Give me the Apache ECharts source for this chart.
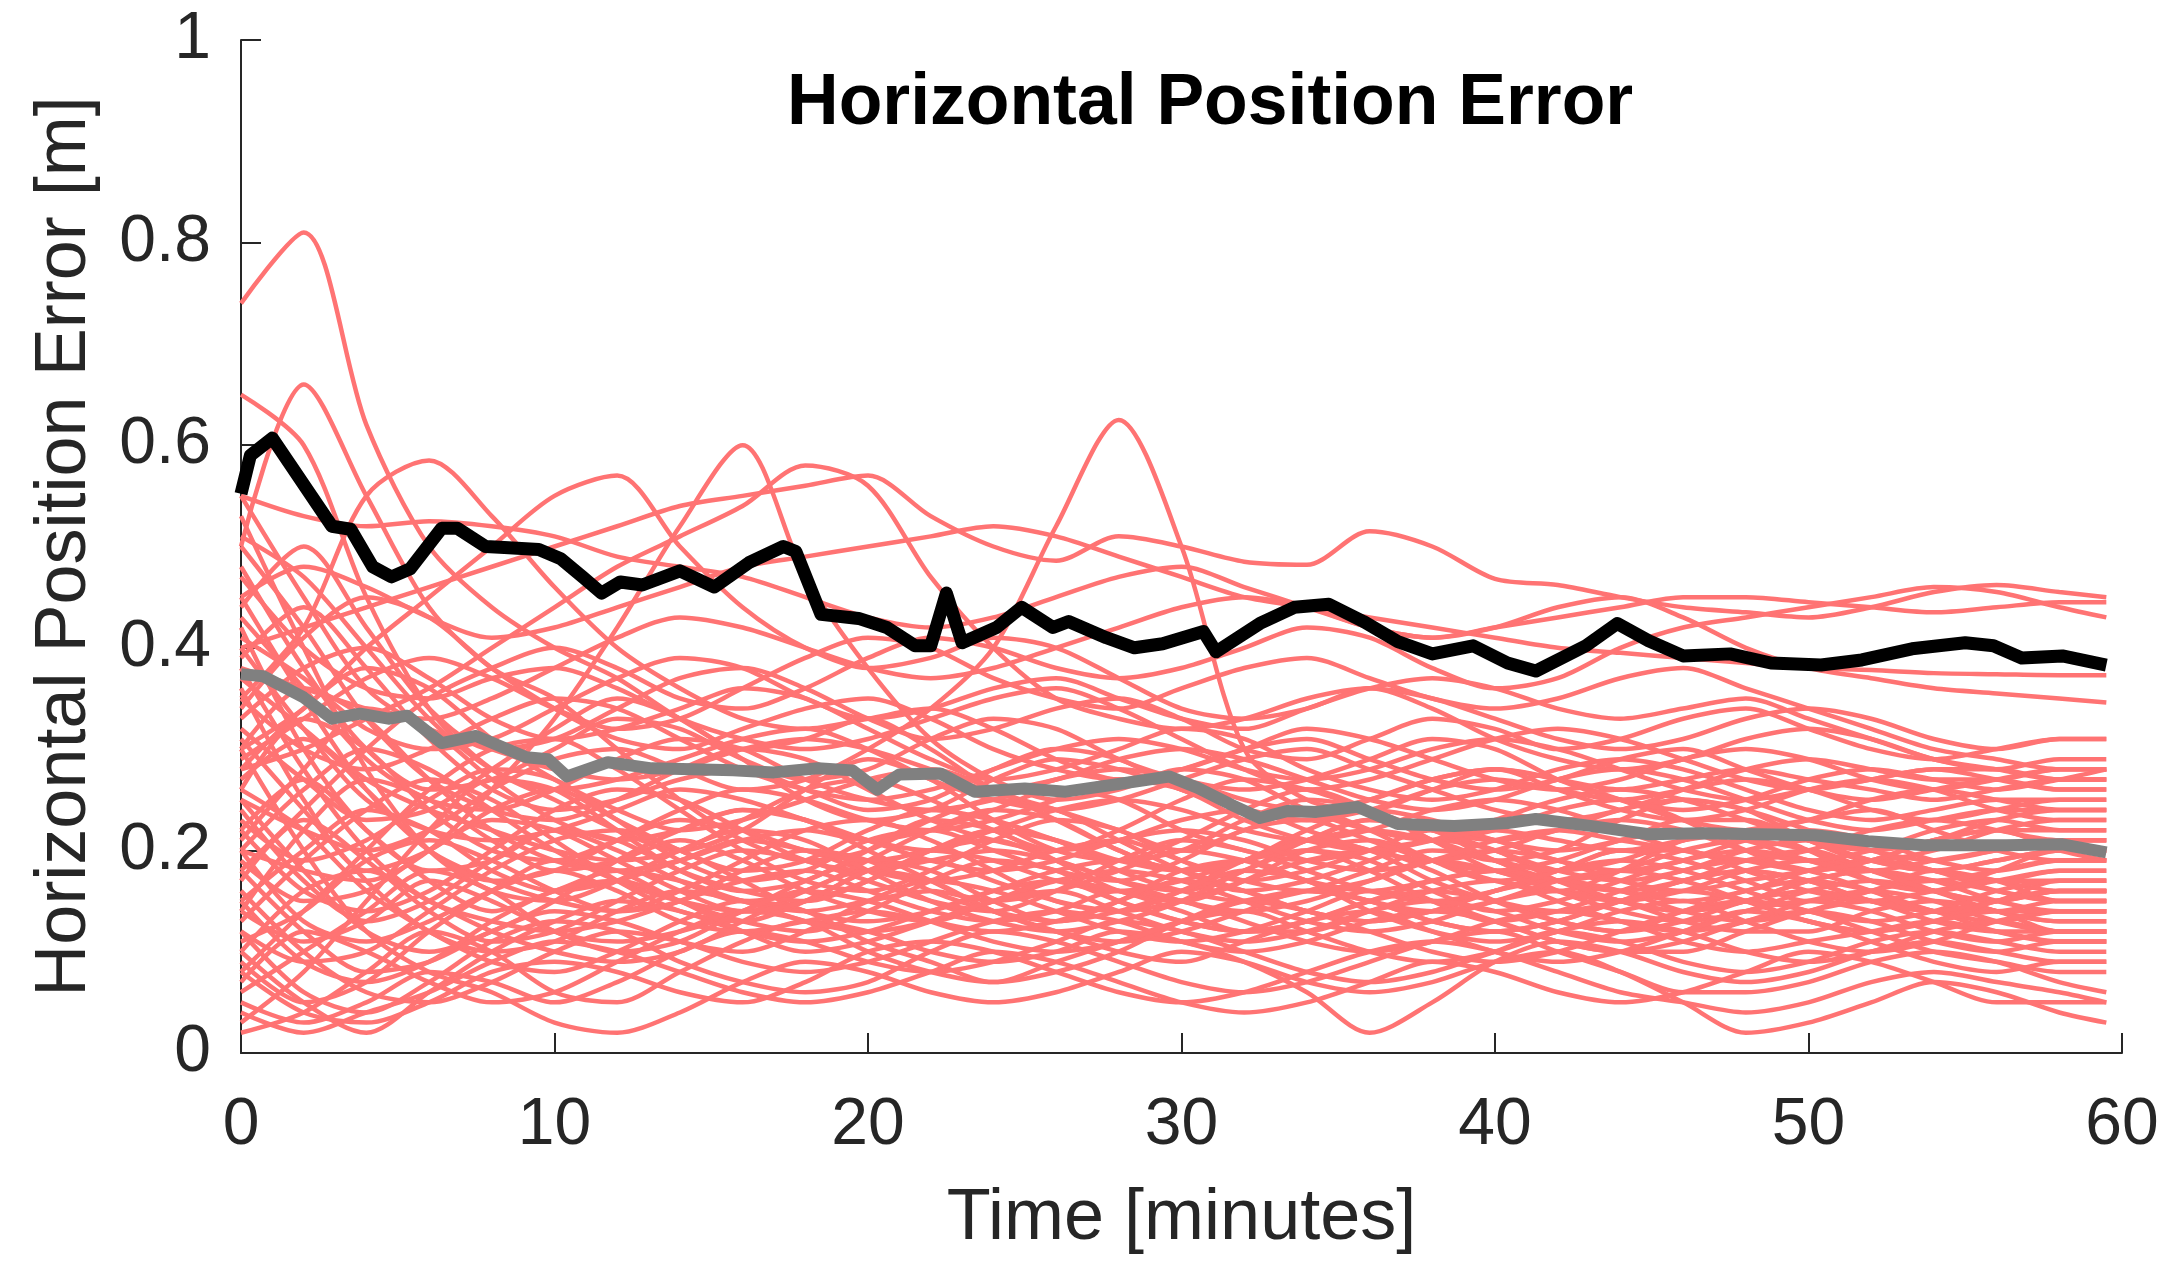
<!DOCTYPE html>
<html>
<head>
<meta charset="utf-8">
<title>Horizontal Position Error</title>
<script src="https://cdn.jsdelivr.net/npm/echarts@6/dist/echarts.min.js"></script>
<style>
  html, body { margin: 0; padding: 0; background: #fff; }
  #main { width: 2171px; height: 1279px; }
</style>
</head>
<body>
<div id="main"></div>
<script type="text/javascript">
// time axis (minutes), shared by every run
var times = [0,2,4,6,8,10,12,14,16,18,20,22,24,26,28,30,32,34,36,38,40,42,44,46,48,50,52,54,56,58,59.5];

// individual runs (red)
var runs = [
  [0.74,0.81,0.62,0.50,0.44,0.40,0.37,0.33,0.30,0.31,0.33,0.30,0.26,0.24,0.22,0.20,0.22,0.24,0.22,0.19,0.17,0.18,0.20,0.19,0.17,0.15,0.16,0.18,0.17,0.15,0.15],
  [0.65,0.60,0.45,0.34,0.28,0.25,0.22,0.20,0.22,0.26,0.29,0.27,0.23,0.20,0.19,0.21,0.24,0.26,0.24,0.21,0.19,0.20,0.23,0.25,0.24,0.21,0.19,0.20,0.22,0.23,0.23],
  [0.50,0.66,0.55,0.44,0.38,0.35,0.30,0.25,0.21,0.19,0.20,0.23,0.25,0.24,0.21,0.18,0.16,0.17,0.19,0.21,0.20,0.17,0.15,0.14,0.15,0.17,0.18,0.16,0.14,0.13,0.13],
  [0.35,0.42,0.55,0.585,0.53,0.46,0.40,0.36,0.33,0.32,0.33,0.34,0.32,0.29,0.27,0.28,0.30,0.31,0.29,0.27,0.26,0.27,0.29,0.30,0.28,0.26,0.25,0.26,0.27,0.26,0.26],
  [0.30,0.34,0.40,0.45,0.50,0.55,0.57,0.50,0.44,0.40,0.38,0.39,0.41,0.40,0.37,0.34,0.33,0.34,0.36,0.35,0.33,0.31,0.30,0.31,0.33,0.34,0.33,0.31,0.30,0.31,0.31],
  [0.20,0.18,0.17,0.20,0.26,0.33,0.42,0.52,0.60,0.47,0.38,0.31,0.27,0.25,0.26,0.28,0.27,0.24,0.22,0.21,0.22,0.24,0.25,0.23,0.20,0.18,0.19,0.21,0.22,0.20,0.19],
  [0.28,0.30,0.33,0.36,0.40,0.44,0.48,0.51,0.54,0.58,0.56,0.47,0.40,0.35,0.33,0.32,0.33,0.35,0.36,0.34,0.31,0.29,0.28,0.29,0.31,0.32,0.31,0.29,0.28,0.29,0.29],
  [0.40,0.42,0.44,0.46,0.48,0.50,0.52,0.54,0.55,0.56,0.57,0.53,0.50,0.486,0.51,0.50,0.485,0.482,0.515,0.50,0.468,0.462,0.45,0.44,0.435,0.43,0.44,0.455,0.462,0.455,0.45],
  [0.25,0.22,0.20,0.22,0.26,0.29,0.30,0.28,0.26,0.27,0.30,0.34,0.40,0.52,0.625,0.50,0.30,0.25,0.24,0.26,0.28,0.27,0.25,0.23,0.22,0.23,0.25,0.26,0.25,0.24,0.24],
  [0.55,0.53,0.52,0.525,0.52,0.51,0.49,0.48,0.47,0.45,0.43,0.42,0.43,0.45,0.47,0.48,0.46,0.44,0.42,0.41,0.42,0.43,0.44,0.45,0.45,0.445,0.44,0.435,0.44,0.445,0.445],
  [0.45,0.48,0.46,0.43,0.41,0.42,0.44,0.46,0.48,0.49,0.50,0.51,0.52,0.51,0.49,0.47,0.45,0.44,0.43,0.42,0.41,0.40,0.395,0.39,0.385,0.38,0.378,0.375,0.374,0.373,0.373],
  [0.38,0.36,0.34,0.33,0.35,0.38,0.41,0.43,0.42,0.40,0.38,0.37,0.38,0.40,0.42,0.44,0.45,0.44,0.42,0.41,0.42,0.44,0.45,0.43,0.40,0.38,0.37,0.36,0.355,0.35,0.346],
  [0.18,0.24,0.30,0.35,0.38,0.40,0.38,0.35,0.34,0.36,0.39,0.41,0.40,0.38,0.37,0.38,0.40,0.42,0.41,0.38,0.36,0.37,0.40,0.42,0.43,0.44,0.45,0.46,0.455,0.44,0.43],
  [0.10,0.05,0.02,0.06,0.10,0.13,0.15,0.14,0.12,0.11,0.12,0.14,0.16,0.17,0.15,0.13,0.12,0.13,0.15,0.16,0.15,0.13,0.12,0.13,0.15,0.16,0.15,0.13,0.12,0.12,0.12],
  [0.02,0.04,0.08,0.12,0.10,0.06,0.05,0.08,0.11,0.13,0.12,0.10,0.09,0.10,0.12,0.11,0.09,0.06,0.02,0.05,0.09,0.11,0.10,0.08,0.07,0.08,0.10,0.11,0.10,0.09,0.09],
  [0.30,0.20,0.12,0.08,0.06,0.03,0.02,0.04,0.07,0.09,0.08,0.06,0.05,0.06,0.08,0.10,0.09,0.07,0.06,0.07,0.09,0.10,0.08,0.05,0.02,0.03,0.05,0.07,0.06,0.04,0.03],
  [0.15,0.20,0.24,0.22,0.18,0.16,0.17,0.19,0.21,0.20,0.18,0.17,0.18,0.20,0.21,0.19,0.17,0.16,0.17,0.19,0.20,0.19,0.17,0.16,0.17,0.18,0.19,0.18,0.17,0.16,0.16],
  [0.45,0.35,0.26,0.20,0.17,0.15,0.14,0.16,0.19,0.22,0.23,0.21,0.18,0.15,0.14,0.15,0.17,0.19,0.20,0.18,0.15,0.13,0.12,0.14,0.16,0.17,0.16,0.14,0.13,0.14,0.14],
  [0.08,0.14,0.20,0.26,0.30,0.31,0.28,0.24,0.20,0.17,0.16,0.18,0.21,0.23,0.22,0.19,0.17,0.18,0.20,0.22,0.21,0.19,0.18,0.19,0.21,0.22,0.21,0.19,0.18,0.19,0.19],
  [0.25,0.18,0.12,0.10,0.12,0.15,0.19,0.22,0.24,0.23,0.20,0.17,0.14,0.12,0.11,0.12,0.14,0.16,0.15,0.13,0.12,0.13,0.15,0.17,0.18,0.17,0.15,0.14,0.15,0.17,0.17],
  [0.35,0.30,0.28,0.30,0.33,0.35,0.34,0.31,0.28,0.26,0.25,0.26,0.28,0.30,0.31,0.30,0.28,0.27,0.28,0.30,0.31,0.30,0.28,0.26,0.25,0.26,0.27,0.28,0.27,0.26,0.26],
  [0.12,0.09,0.10,0.14,0.18,0.21,0.22,0.20,0.17,0.14,0.13,0.14,0.16,0.18,0.19,0.18,0.16,0.14,0.13,0.14,0.16,0.18,0.19,0.18,0.16,0.14,0.13,0.14,0.16,0.17,0.17],
  [0.50,0.42,0.33,0.27,0.24,0.23,0.25,0.28,0.30,0.29,0.26,0.23,0.21,0.20,0.22,0.25,0.27,0.26,0.24,0.22,0.21,0.22,0.24,0.25,0.24,0.22,0.20,0.19,0.20,0.21,0.21],
  [0.20,0.26,0.30,0.28,0.24,0.20,0.17,0.15,0.14,0.15,0.17,0.20,0.22,0.21,0.18,0.16,0.15,0.16,0.18,0.20,0.19,0.16,0.14,0.13,0.14,0.16,0.17,0.16,0.14,0.13,0.13],
  [0.05,0.03,0.05,0.08,0.07,0.05,0.07,0.10,0.12,0.11,0.09,0.08,0.09,0.11,0.13,0.12,0.10,0.08,0.07,0.08,0.10,0.12,0.11,0.09,0.08,0.09,0.11,0.12,0.11,0.10,0.10],
  [0.40,0.32,0.25,0.22,0.21,0.22,0.24,0.26,0.25,0.23,0.21,0.20,0.22,0.24,0.25,0.24,0.22,0.21,0.22,0.24,0.25,0.24,0.22,0.20,0.19,0.20,0.22,0.23,0.22,0.21,0.21],
  [0.28,0.34,0.38,0.36,0.31,0.27,0.24,0.22,0.23,0.25,0.27,0.28,0.26,0.23,0.20,0.18,0.19,0.21,0.23,0.22,0.20,0.18,0.17,0.18,0.20,0.21,0.20,0.18,0.17,0.18,0.18],
  [0.18,0.12,0.08,0.09,0.12,0.14,0.13,0.11,0.10,0.12,0.15,0.17,0.16,0.14,0.12,0.11,0.12,0.14,0.16,0.15,0.13,0.11,0.10,0.11,0.13,0.14,0.13,0.11,0.10,0.11,0.11],
  [0.33,0.38,0.40,0.37,0.33,0.31,0.32,0.34,0.36,0.35,0.32,0.29,0.27,0.28,0.30,0.32,0.31,0.28,0.26,0.25,0.26,0.28,0.29,0.28,0.26,0.24,0.23,0.24,0.25,0.25,0.25],
  [0.22,0.16,0.14,0.16,0.20,0.24,0.26,0.25,0.22,0.19,0.18,0.19,0.20,0.19,0.17,0.16,0.18,0.21,0.23,0.22,0.19,0.17,0.16,0.17,0.19,0.20,0.18,0.16,0.15,0.16,0.16],
  [0.10,0.16,0.18,0.15,0.12,0.10,0.09,0.10,0.13,0.16,0.18,0.17,0.14,0.12,0.10,0.09,0.11,0.13,0.14,0.12,0.10,0.09,0.10,0.12,0.14,0.13,0.11,0.09,0.08,0.09,0.09],
  [0.42,0.30,0.22,0.18,0.19,0.22,0.20,0.17,0.15,0.16,0.19,0.22,0.24,0.23,0.20,0.18,0.19,0.22,0.24,0.23,0.21,0.20,0.21,0.23,0.23,0.21,0.19,0.18,0.19,0.20,0.20],
  [0.26,0.22,0.16,0.12,0.09,0.08,0.10,0.13,0.15,0.14,0.11,0.09,0.07,0.08,0.10,0.13,0.15,0.14,0.12,0.10,0.09,0.10,0.12,0.14,0.15,0.14,0.12,0.10,0.09,0.08,0.08],
  [0.55,0.45,0.36,0.32,0.30,0.28,0.27,0.28,0.30,0.31,0.30,0.28,0.26,0.27,0.29,0.30,0.29,0.27,0.25,0.24,0.25,0.27,0.28,0.27,0.25,0.23,0.22,0.23,0.24,0.24,0.24],
  [0.14,0.22,0.27,0.25,0.21,0.18,0.19,0.21,0.19,0.16,0.14,0.13,0.15,0.17,0.18,0.17,0.15,0.13,0.12,0.13,0.15,0.16,0.15,0.13,0.12,0.12,0.14,0.15,0.14,0.12,0.12],
  [0.06,0.10,0.14,0.18,0.16,0.12,0.11,0.12,0.14,0.17,0.19,0.18,0.15,0.13,0.14,0.16,0.18,0.17,0.14,0.12,0.11,0.12,0.14,0.15,0.13,0.11,0.10,0.11,0.13,0.14,0.14],
  [0.38,0.28,0.20,0.15,0.13,0.12,0.13,0.15,0.17,0.18,0.16,0.14,0.13,0.14,0.16,0.15,0.13,0.11,0.10,0.11,0.13,0.14,0.13,0.11,0.10,0.11,0.12,0.13,0.12,0.11,0.11],
  [0.30,0.36,0.33,0.27,0.22,0.19,0.18,0.19,0.21,0.22,0.21,0.22,0.24,0.26,0.25,0.22,0.20,0.19,0.20,0.21,0.22,0.21,0.20,0.21,0.22,0.23,0.24,0.22,0.20,0.19,0.19],
  [0.16,0.10,0.06,0.05,0.07,0.10,0.12,0.11,0.09,0.08,0.09,0.11,0.13,0.14,0.13,0.11,0.10,0.11,0.13,0.14,0.13,0.11,0.10,0.10,0.12,0.14,0.15,0.14,0.12,0.11,0.11],
  [0.48,0.38,0.30,0.26,0.27,0.30,0.33,0.32,0.29,0.27,0.28,0.31,0.33,0.32,0.29,0.27,0.26,0.27,0.29,0.31,0.30,0.27,0.25,0.24,0.25,0.27,0.28,0.27,0.26,0.27,0.28],
  [0.22,0.27,0.22,0.17,0.14,0.16,0.18,0.17,0.15,0.14,0.15,0.16,0.15,0.16,0.18,0.20,0.19,0.17,0.16,0.17,0.18,0.17,0.16,0.15,0.16,0.18,0.19,0.18,0.16,0.15,0.15],
  [0.12,0.06,0.04,0.07,0.11,0.13,0.12,0.09,0.07,0.06,0.07,0.10,0.12,0.11,0.09,0.07,0.06,0.07,0.09,0.11,0.12,0.10,0.08,0.06,0.06,0.07,0.09,0.10,0.09,0.07,0.06],
  [0.36,0.25,0.18,0.20,0.24,0.26,0.23,0.20,0.18,0.19,0.22,0.24,0.23,0.21,0.19,0.20,0.23,0.25,0.24,0.21,0.18,0.17,0.18,0.20,0.21,0.20,0.18,0.17,0.18,0.19,0.19],
  [0.20,0.13,0.11,0.13,0.16,0.18,0.16,0.13,0.12,0.13,0.14,0.13,0.12,0.13,0.15,0.17,0.16,0.14,0.13,0.14,0.16,0.17,0.16,0.14,0.13,0.14,0.16,0.17,0.16,0.15,0.15],
  [0.44,0.50,0.42,0.34,0.30,0.31,0.34,0.37,0.38,0.36,0.33,0.31,0.32,0.34,0.35,0.33,0.30,0.29,0.31,0.33,0.32,0.30,0.31,0.33,0.34,0.32,0.30,0.29,0.30,0.31,0.31],
  [0.53,0.40,0.28,0.20,0.16,0.15,0.17,0.20,0.22,0.21,0.18,0.15,0.13,0.12,0.13,0.15,0.18,0.20,0.19,0.16,0.14,0.15,0.17,0.19,0.20,0.19,0.17,0.16,0.17,0.18,0.18],
  [0.03,0.08,0.15,0.22,0.27,0.26,0.22,0.18,0.16,0.17,0.20,0.23,0.22,0.19,0.16,0.15,0.17,0.20,0.21,0.19,0.17,0.16,0.18,0.21,0.22,0.20,0.17,0.16,0.18,0.20,0.20],
  [0.32,0.27,0.23,0.24,0.28,0.32,0.35,0.33,0.29,0.25,0.23,0.24,0.27,0.29,0.28,0.26,0.24,0.23,0.25,0.27,0.28,0.26,0.24,0.23,0.24,0.26,0.27,0.26,0.24,0.23,0.23],
  [0.09,0.05,0.07,0.12,0.16,0.19,0.18,0.15,0.13,0.12,0.14,0.17,0.19,0.18,0.15,0.13,0.12,0.13,0.15,0.17,0.18,0.17,0.15,0.14,0.15,0.17,0.18,0.17,0.15,0.14,0.14],
  [0.47,0.40,0.36,0.35,0.37,0.38,0.36,0.33,0.31,0.30,0.31,0.33,0.35,0.36,0.34,0.31,0.28,0.26,0.27,0.29,0.31,0.32,0.31,0.29,0.27,0.26,0.27,0.28,0.28,0.27,0.27],
  [0.17,0.23,0.19,0.14,0.11,0.12,0.15,0.18,0.20,0.19,0.17,0.15,0.14,0.16,0.19,0.21,0.20,0.18,0.16,0.15,0.16,0.18,0.20,0.20,0.18,0.16,0.15,0.16,0.17,0.17,0.17],
  [0.27,0.31,0.26,0.20,0.17,0.18,0.21,0.24,0.26,0.25,0.23,0.22,0.23,0.25,0.27,0.26,0.23,0.21,0.20,0.21,0.23,0.25,0.26,0.25,0.23,0.21,0.20,0.21,0.23,0.24,0.24],
  [0.07,0.12,0.10,0.07,0.05,0.06,0.09,0.12,0.14,0.13,0.10,0.08,0.07,0.09,0.11,0.13,0.14,0.12,0.10,0.09,0.10,0.12,0.13,0.12,0.10,0.09,0.10,0.12,0.13,0.12,0.12],
  [0.39,0.44,0.38,0.31,0.26,0.24,0.25,0.27,0.28,0.26,0.24,0.25,0.28,0.30,0.29,0.26,0.24,0.23,0.24,0.26,0.27,0.26,0.25,0.26,0.27,0.26,0.24,0.23,0.24,0.25,0.25],
  [0.24,0.17,0.13,0.15,0.19,0.22,0.21,0.18,0.16,0.15,0.17,0.20,0.21,0.19,0.17,0.15,0.14,0.15,0.17,0.19,0.18,0.16,0.15,0.16,0.18,0.19,0.18,0.16,0.15,0.16,0.16],
  [0.13,0.19,0.24,0.27,0.25,0.21,0.17,0.14,0.13,0.15,0.18,0.20,0.19,0.17,0.16,0.17,0.19,0.20,0.18,0.15,0.13,0.14,0.16,0.18,0.19,0.18,0.16,0.14,0.14,0.15,0.15],
  [0.31,0.24,0.17,0.12,0.10,0.11,0.14,0.16,0.15,0.13,0.12,0.13,0.15,0.17,0.16,0.14,0.12,0.12,0.14,0.16,0.17,0.15,0.13,0.12,0.13,0.15,0.16,0.15,0.13,0.12,0.12],
  [0.04,0.02,0.04,0.06,0.09,0.11,0.10,0.08,0.06,0.05,0.06,0.08,0.10,0.09,0.07,0.05,0.04,0.05,0.07,0.09,0.08,0.06,0.05,0.06,0.08,0.10,0.09,0.07,0.05,0.05,0.05],
  [0.43,0.36,0.29,0.25,0.24,0.26,0.29,0.31,0.30,0.27,0.25,0.24,0.25,0.27,0.28,0.27,0.25,0.24,0.25,0.27,0.28,0.27,0.26,0.27,0.28,0.27,0.26,0.25,0.26,0.27,0.27],
  [0.19,0.15,0.16,0.20,0.23,0.22,0.19,0.16,0.14,0.15,0.18,0.19,0.17,0.15,0.14,0.16,0.19,0.21,0.20,0.17,0.15,0.14,0.15,0.17,0.18,0.17,0.15,0.14,0.15,0.16,0.16],
  [0.11,0.14,0.19,0.21,0.19,0.16,0.14,0.15,0.18,0.20,0.19,0.16,0.14,0.13,0.15,0.18,0.19,0.17,0.15,0.14,0.15,0.17,0.18,0.17,0.15,0.13,0.12,0.13,0.15,0.16,0.16],
  [0.34,0.41,0.45,0.43,0.38,0.34,0.31,0.30,0.32,0.34,0.35,0.33,0.30,0.28,0.27,0.28,0.30,0.32,0.31,0.29,0.27,0.26,0.27,0.29,0.30,0.29,0.27,0.26,0.27,0.28,0.28],
  [0.23,0.19,0.21,0.25,0.28,0.27,0.23,0.19,0.17,0.18,0.21,0.22,0.20,0.18,0.17,0.19,0.22,0.23,0.21,0.19,0.18,0.19,0.21,0.22,0.21,0.19,0.18,0.19,0.20,0.21,0.21],
  [0.15,0.09,0.07,0.09,0.13,0.16,0.17,0.15,0.12,0.10,0.11,0.13,0.15,0.16,0.14,0.12,0.11,0.12,0.14,0.15,0.14,0.12,0.11,0.12,0.14,0.15,0.14,0.12,0.11,0.12,0.12],
  [0.51,0.47,0.40,0.33,0.28,0.26,0.27,0.29,0.31,0.32,0.30,0.27,0.25,0.24,0.25,0.27,0.29,0.30,0.28,0.26,0.24,0.23,0.24,0.26,0.28,0.29,0.28,0.27,0.27,0.28,0.28],
  [0.26,0.33,0.30,0.24,0.20,0.19,0.21,0.23,0.22,0.20,0.19,0.20,0.22,0.21,0.19,0.18,0.19,0.21,0.22,0.21,0.19,0.18,0.19,0.21,0.22,0.21,0.19,0.18,0.19,0.20,0.20],
  [0.08,0.04,0.03,0.05,0.08,0.09,0.08,0.06,0.05,0.07,0.10,0.11,0.10,0.08,0.06,0.05,0.06,0.08,0.10,0.11,0.10,0.08,0.06,0.05,0.04,0.05,0.07,0.08,0.07,0.06,0.05],
  [0.37,0.32,0.27,0.24,0.22,0.20,0.19,0.20,0.23,0.26,0.27,0.25,0.22,0.20,0.21,0.23,0.24,0.22,0.20,0.19,0.20,0.22,0.23,0.22,0.20,0.19,0.20,0.22,0.23,0.22,0.22],
  [0.21,0.28,0.34,0.32,0.27,0.23,0.21,0.22,0.24,0.23,0.21,0.19,0.18,0.19,0.21,0.22,0.21,0.19,0.18,0.19,0.21,0.22,0.21,0.20,0.19,0.18,0.19,0.21,0.22,0.22,0.22],
  [0.14,0.11,0.13,0.17,0.15,0.12,0.10,0.11,0.14,0.16,0.15,0.13,0.11,0.10,0.11,0.13,0.15,0.16,0.15,0.13,0.12,0.13,0.15,0.16,0.15,0.13,0.12,0.13,0.14,0.14,0.14],
  [0.29,0.33,0.37,0.39,0.37,0.34,0.32,0.33,0.36,0.39,0.41,0.40,0.37,0.35,0.34,0.36,0.38,0.39,0.37,0.35,0.34,0.35,0.37,0.38,0.36,0.34,0.32,0.30,0.29,0.28,0.28],
  [0.41,0.37,0.32,0.30,0.31,0.34,0.37,0.39,0.38,0.35,0.33,0.34,0.36,0.37,0.35,0.33,0.32,0.34,0.36,0.37,0.36,0.34,0.33,0.34,0.35,0.33,0.31,0.29,0.28,0.27,0.27]
];

// upper envelope (black) and typical error (gray)
var upperT = [0,0.3,1.0,2.9,3.5,4.2,4.8,5.4,6.4,6.9,7.8,8.4,9.5,10.2,10.9,11.5,12.1,12.8,14.0,15.1,16.2,17.3,17.7,18.5,19.7,20.6,21.5,22.0,22.5,23.0,24.1,24.9,25.9,26.4,27.6,28.5,29.4,30.7,31.1,32.5,33.6,34.7,35.8,36.9,38.0,39.3,40.4,41.3,42.9,43.9,44.9,46.0,47.5,48.8,50.4,51.7,53.3,55.0,55.9,56.8,58.1,59.5];
var upperV = [0.552,0.59,0.607,0.52,0.517,0.48,0.47,0.478,0.518,0.518,0.50,0.499,0.497,0.488,0.47,0.454,0.465,0.462,0.476,0.46,0.484,0.50,0.495,0.433,0.429,0.42,0.402,0.402,0.454,0.405,0.42,0.44,0.42,0.426,0.41,0.40,0.404,0.416,0.396,0.424,0.44,0.443,0.426,0.406,0.394,0.402,0.385,0.377,0.402,0.424,0.407,0.392,0.394,0.385,0.383,0.388,0.399,0.405,0.402,0.39,0.392,0.383];
var typicalT = [0,0.7,2.0,2.9,3.8,4.7,5.3,6.4,7.5,9.1,9.8,10.4,11.7,13.1,14.4,15.7,17.0,18.4,19.5,20.3,21.0,22.3,23.4,25.0,26.3,28.1,29.6,30.5,31.6,32.5,33.4,34.3,35.6,36.9,38.7,40.4,41.3,43.1,44.9,46.6,48.4,50.2,51.9,53.7,55.0,56.3,58.1,59.5];
var typicalV = [0.374,0.372,0.351,0.33,0.335,0.33,0.333,0.306,0.313,0.292,0.29,0.273,0.287,0.281,0.28,0.279,0.277,0.281,0.279,0.26,0.275,0.276,0.258,0.261,0.258,0.266,0.273,0.262,0.245,0.232,0.239,0.238,0.243,0.226,0.224,0.227,0.231,0.224,0.216,0.217,0.216,0.215,0.209,0.205,0.205,0.205,0.206,0.198];

var xTicks = [0, 60, 10];
var yTicks = [0, 1, 0.2];

function pairs(t, v) {
    var out = [];
    for (var i = 0; i < t.length; i++) out.push([t[i], v[i]]);
    return out;
}

var myChart = echarts.init(document.getElementById('main'));

var series = [];
runs.forEach(function (r, i) {
    series.push({
        name: 'run' + i,
        type: 'line',
        data: pairs(times, r),
        smooth: 0.3,
        showSymbol: false,
        silent: true,
        lineStyle: { color: '#ff7373', width: 4.5 },
        z: 2
    });
});
series.push({
    name: 'upper',
    type: 'line',
    data: pairs(upperT, upperV),
    showSymbol: false,
    lineStyle: { color: '#000000', width: 13, join: 'round' },
    z: 4
});
series.push({
    name: 'typical',
    type: 'line',
    data: pairs(typicalT, typicalV),
    showSymbol: false,
    lineStyle: { color: '#808080', width: 12, join: 'round' },
    z: 3
});

var nameText = { fontFamily: 'Liberation Sans', fontSize: 72, color: '#262626' };

var option = {
    animation: false,
    backgroundColor: '#ffffff',
    title: {
        text: 'Horizontal Position Error',
        left: 782,
        top: 63,
        textStyle: { fontFamily: 'Liberation Sans', fontSize: 71.5, fontWeight: 'bold', color: '#000' }
    },
    grid: { left: 241, right: 49, top: 40, bottom: 226, containLabel: false },
    xAxis: {
        type: 'value',
        min: xTicks[0], max: xTicks[1], interval: xTicks[2],
        name: 'Time [minutes]',
        nameLocation: 'middle',
        nameGap: 130,
        nameTextStyle: nameText,
        axisLine: { show: true, onZero: false, lineStyle: { color: '#262626', width: 2 } },
        axisTick: { show: true, inside: true, length: 20, lineStyle: { color: '#262626', width: 2 } },
        axisLabel: { margin: 40, fontFamily: 'Liberation Sans', fontSize: 66, color: '#262626' },
        splitLine: { show: false }
    },
    yAxis: {
        type: 'value',
        min: yTicks[0], max: yTicks[1], interval: yTicks[2],
        name: 'Horizontal Position Error [m]',
        nameLocation: 'middle',
        nameGap: 140,
        nameTextStyle: nameText,
        axisLine: { show: true, onZero: false, lineStyle: { color: '#262626', width: 2 } },
        axisTick: { show: true, inside: true, length: 20, lineStyle: { color: '#262626', width: 2 } },
        axisLabel: { margin: 30, fontFamily: 'Liberation Sans', fontSize: 66, color: '#262626' },
        splitLine: { show: false }
    },
    series: series
};

myChart.setOption(option);
</script>
</body>
</html>
